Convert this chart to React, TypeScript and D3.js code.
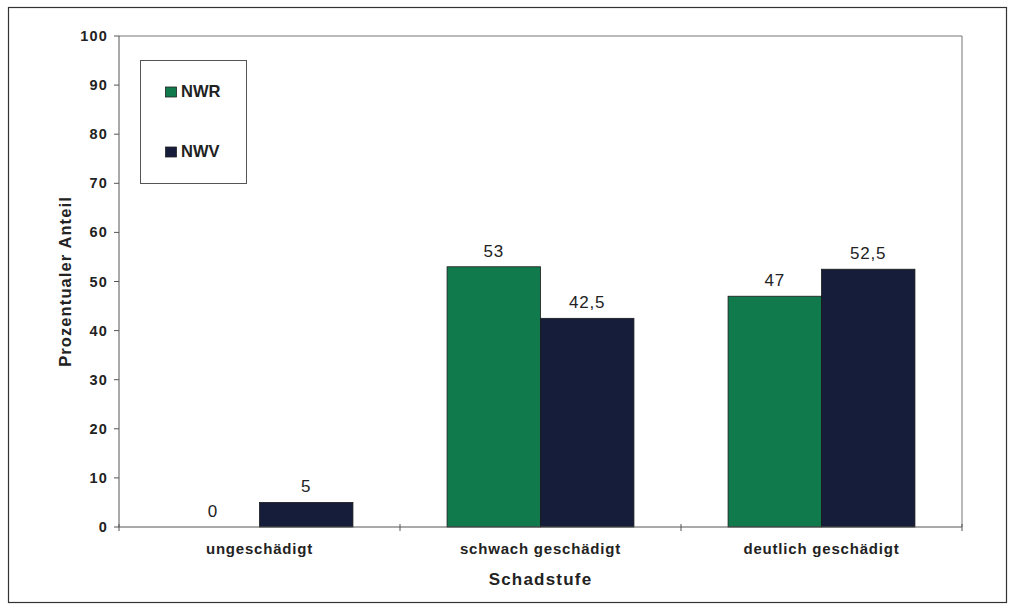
import React from "react";
import * as d3 from "d3";

const categories = ["ungeschädigt", "schwach geschädigt", "deutlich geschädigt"];
const seriesNames = ["NWR", "NWV"];
const nwr = [0, 53, 47];
const nwv = [5, 42.5, 52.5];
const nwrLabels = ["0", "53", "47"];
const nwvLabels = ["5", "42,5", "52,5"];
const yTicks = [0, 10, 20, 30, 40, 50, 60, 70, 80, 90, 100];
const colors = ["#117a4d", "#161d3b"];

export default function App() {
  const W = 1011, H = 606;
  const left = 119, right = 962, top = 36, bottom = 527;
  const x = d3.scaleBand<string>().domain(categories).range([left, right]).paddingInner(0.335).paddingOuter(0.1675);
  const x1 = d3.scaleBand<string>().domain(seriesNames).range([0, x.bandwidth()]);
  const y = d3.scaleLinear().domain([0, 100]).range([bottom, top]);
  const data = [nwr, nwv];
  const labels = [nwrLabels, nwvLabels];
  const step = (right - left) / categories.length;
  const font = "Arial, 'Liberation Sans', sans-serif";
  return (
    <svg width={W} height={H} style={{ position: "absolute", left: 0, top: 0 }} fontFamily={font}>
      <rect x={0} y={0} width={W} height={H} fill="#fff" />
      <rect x={8.5} y={7.5} width={998} height={595} fill="none" stroke="#333" strokeWidth={1.2} />
      {/* plot area border */}
      <path d={`M${left},${top}H${right}V${bottom}`} fill="none" stroke="#777" strokeWidth={1} />
      {/* y axis */}
      <line x1={left} x2={left} y1={top} y2={bottom} stroke="#555" strokeWidth={1} />
      {yTicks.map((t) => (
        <g key={t}>
          <line x1={left - 5} x2={left} y1={y(t)} y2={y(t)} stroke="#555" />
          <text x={left - 11} y={y(t)} dy="0.35em" textAnchor="end" fontSize={14.5} fontWeight="bold" letterSpacing={1.2} fill="#222">{t}</text>
        </g>
      ))}
      {/* bars */}
      {categories.map((c, i) => (
        <g key={c}>
          {seriesNames.map((s, j) => {
            const bx = (x(c) as number) + (x1(s) as number);
            const v = data[j][i];
            return (
              <g key={s}>
                {v > 0 && (
                  <rect x={bx} y={y(v)} width={x1.bandwidth()} height={y(0) - y(v)} fill={colors[j]} stroke="#1a1a1a" strokeWidth={0.8} />
                )}
                <text x={bx + x1.bandwidth() / 2} y={y(v) - 10} textAnchor="middle" fontSize={17} letterSpacing={0.8} fill="#222">{labels[j][i]}</text>
              </g>
            );
          })}
          <text x={(x(c) as number) + x.bandwidth() / 2} y={554} textAnchor="middle" fontSize={15} fontWeight="bold" letterSpacing={0.8} fill="#222">{c}</text>
        </g>
      ))}
      {/* x axis */}
      <line x1={left} x2={right} y1={bottom} y2={bottom} stroke="#555" strokeWidth={1} />
      {d3.range(categories.length + 1).map((k) => (
        <line key={k} x1={left + k * step} x2={left + k * step} y1={bottom - 3} y2={bottom + 4} stroke="#555" />
      ))}
      {/* axis titles */}
      <text transform={`translate(71,${(top + bottom) / 2}) rotate(-90)`} textAnchor="middle" fontSize={16.5} fontWeight="bold" letterSpacing={1.1} fill="#222">Prozentualer Anteil</text>
      <text x={(left + right) / 2} y={585} textAnchor="middle" fontSize={17} fontWeight="bold" letterSpacing={1.2} fill="#222">Schadstufe</text>
      {/* legend */}
      <rect x={140.5} y={60.5} width={106} height={123} fill="#fff" stroke="#555" strokeWidth={1} />
      {seriesNames.map((s, j) => (
        <g key={s}>
          <rect x={165.5} y={87 + j * 60} width={11} height={10} fill={colors[j]} stroke="#222" strokeWidth={0.8} />
          <text x={181} y={97 + j * 60} fontSize={16.5} fontWeight="bold" fill="#222">{s}</text>
        </g>
      ))}
    </svg>
  );
}
